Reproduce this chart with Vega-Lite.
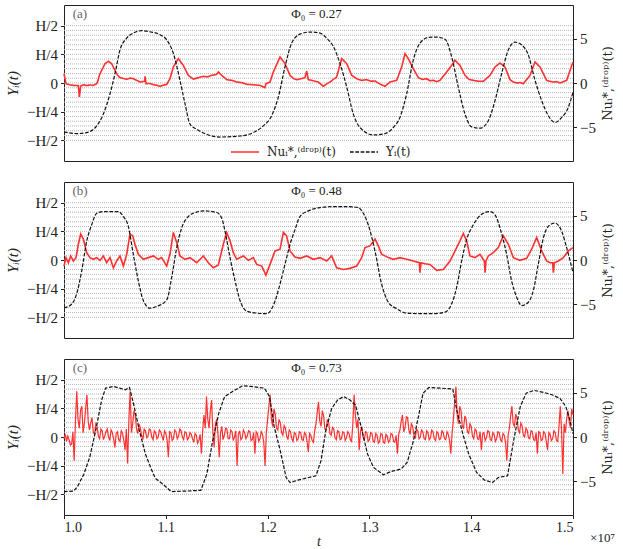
{
"$schema": "https://vega.github.io/schema/vega-lite/v6.json",
"padding": {"left": 5, "top": 4, "right": 5, "bottom": 0},
"config": {
  "font": "Liberation Serif",
  "view": {"stroke": "#222", "strokeWidth": 1},
  "axis": {"domain": false, "grid": false, "labelFont": "Liberation Serif", "titleFont": "Liberation Serif", "labelFontSize": 15, "titleFontSize": 15, "titleFontWeight": "normal", "labelColor": "#222", "titleColor": "#222", "tickColor": "#222", "tickSize": 3.5, "labelPadding": 3},
  "legend": {"orient": "none", "legendX": 166, "legendY": 132, "direction": "horizontal", "symbolType": "stroke", "symbolSize": 784, "symbolStrokeWidth": 1.6, "labelFont": "DejaVu Serif", "labelFontSize": 12, "labelColor": "#222", "labelOffset": 7, "columnPadding": 10}
},
"title": {"text": "×10⁷", "orient": "bottom", "anchor": "end", "fontSize": 13, "fontWeight": "normal", "font": "Liberation Serif", "color": "#222", "offset": -17},
"spacing": 19,
"resolve": {"scale": {"color": "independent", "strokeDash": "independent"}},
"datasets": {
  "grid": [{"y":-0.5},{"y":-0.4583},{"y":-0.4167},{"y":-0.375},{"y":-0.3333},{"y":-0.2917},{"y":-0.25},{"y":-0.2083},{"y":-0.1667},{"y":-0.125},{"y":-0.0833},{"y":-0.0417},{"y":0},{"y":0.0417},{"y":0.0833},{"y":0.125},{"y":0.1667},{"y":0.2083},{"y":0.25},{"y":0.2917},{"y":0.3333},{"y":0.375},{"y":0.4167},{"y":0.4583},{"y":0.5}],
  "a_y": [{"t":1.0,"v":-0.426},{"t":1.0124,"v":-0.441},{"t":1.0223,"v":-0.432},{"t":1.0321,"v":-0.374},{"t":1.0386,"v":-0.271},{"t":1.0452,"v":-0.094},{"t":1.0501,"v":0.082},{"t":1.055,"v":0.288},{"t":1.0616,"v":0.391},{"t":1.0681,"v":0.435},{"t":1.0763,"v":0.456},{"t":1.0845,"v":0.447},{"t":1.0943,"v":0.421},{"t":1.1009,"v":0.376},{"t":1.1074,"v":0.259},{"t":1.1139,"v":0.024},{"t":1.1189,"v":-0.182},{"t":1.1238,"v":-0.359},{"t":1.1303,"v":-0.403},{"t":1.1401,"v":-0.447},{"t":1.1532,"v":-0.471},{"t":1.1729,"v":-0.462},{"t":1.186,"v":-0.432},{"t":1.1958,"v":-0.374},{"t":1.204,"v":-0.285},{"t":1.2105,"v":-0.124},{"t":1.2171,"v":0.141},{"t":1.2236,"v":0.347},{"t":1.2318,"v":0.426},{"t":1.2416,"v":0.444},{"t":1.2515,"v":0.435},{"t":1.258,"v":0.391},{"t":1.2646,"v":0.318},{"t":1.2711,"v":0.171},{"t":1.2777,"v":-0.035},{"t":1.2842,"v":-0.271},{"t":1.2908,"v":-0.388},{"t":1.3039,"v":-0.453},{"t":1.3153,"v":-0.441},{"t":1.3235,"v":-0.388},{"t":1.33,"v":-0.3},{"t":1.3366,"v":-0.094},{"t":1.3431,"v":0.2},{"t":1.3497,"v":0.347},{"t":1.3579,"v":0.397},{"t":1.3661,"v":0.4},{"t":1.3743,"v":0.382},{"t":1.3808,"v":0.229},{"t":1.3873,"v":-0.035},{"t":1.3939,"v":-0.271},{"t":1.4004,"v":-0.382},{"t":1.4086,"v":-0.394},{"t":1.4168,"v":-0.329},{"t":1.4234,"v":-0.153},{"t":1.4299,"v":0.082},{"t":1.4365,"v":0.288},{"t":1.443,"v":0.356},{"t":1.4496,"v":0.332},{"t":1.4561,"v":0.244},{"t":1.4627,"v":0.024},{"t":1.4692,"v":-0.153},{"t":1.4758,"v":-0.285},{"t":1.4823,"v":-0.344},{"t":1.4889,"v":-0.3},{"t":1.4954,"v":-0.212},{"t":1.5,"v":-0.079}],
  "a_nu": [{"t":1.0,"v":1.06},{"t":1.002,"v":-0.08},{"t":1.0055,"v":-0.2},{"t":1.0092,"v":-0.27},{"t":1.0141,"v":-0.3},{"t":1.0151,"v":-1.59},{"t":1.0164,"v":-0.34},{"t":1.0195,"v":-0.2},{"t":1.0223,"v":-0.3},{"t":1.0255,"v":-0.22},{"t":1.0288,"v":-0.27},{"t":1.0321,"v":-0.08},{"t":1.0337,"v":0.38},{"t":1.0347,"v":0.87},{"t":1.037,"v":1.44},{"t":1.0403,"v":2.2},{"t":1.0435,"v":2.46},{"t":1.0468,"v":2.2},{"t":1.0501,"v":1.44},{"t":1.0525,"v":0.9},{"t":1.055,"v":0.61},{"t":1.0585,"v":0.5},{"t":1.0616,"v":0.42},{"t":1.065,"v":0.55},{"t":1.0681,"v":0.49},{"t":1.0715,"v":0.3},{"t":1.0747,"v":0.11},{"t":1.0792,"v":0.2},{"t":1.0796,"v":0.76},{"t":1.0806,"v":-0.08},{"t":1.0845,"v":-0.05},{"t":1.0878,"v":-0.19},{"t":1.091,"v":-0.25},{"t":1.0943,"v":-0.38},{"t":1.0975,"v":-0.25},{"t":1.1009,"v":-0.15},{"t":1.1041,"v":0.49},{"t":1.1074,"v":1.82},{"t":1.1123,"v":2.77},{"t":1.1172,"v":2.0},{"t":1.1221,"v":0.87},{"t":1.127,"v":0.45},{"t":1.132,"v":0.6},{"t":1.1369,"v":0.76},{"t":1.141,"v":0.7},{"t":1.1451,"v":0.87},{"t":1.15,"v":0.98},{"t":1.1516,"v":1.25},{"t":1.1549,"v":0.87},{"t":1.1598,"v":0.38},{"t":1.165,"v":0.3},{"t":1.1696,"v":0.11},{"t":1.1745,"v":0.05},{"t":1.1794,"v":-0.15},{"t":1.186,"v":-0.2},{"t":1.1925,"v":-0.27},{"t":1.1974,"v":-0.53},{"t":1.1984,"v":-0.08},{"t":1.2024,"v":0.11},{"t":1.2056,"v":1.25},{"t":1.2122,"v":2.95},{"t":1.2171,"v":2.2},{"t":1.222,"v":0.87},{"t":1.2255,"v":0.5},{"t":1.2286,"v":0.38},{"t":1.233,"v":0.5},{"t":1.2367,"v":0.61},{"t":1.2384,"v":1.36},{"t":1.24,"v":0.38},{"t":1.2433,"v":0.3},{"t":1.2465,"v":0.2},{"t":1.2498,"v":0.11},{"t":1.2547,"v":-0.38},{"t":1.258,"v":-0.1},{"t":1.2613,"v":0.11},{"t":1.2678,"v":0.68},{"t":1.2728,"v":2.77},{"t":1.2777,"v":2.2},{"t":1.2826,"v":0.87},{"t":1.2875,"v":0.49},{"t":1.292,"v":0.3},{"t":1.2973,"v":0.38},{"t":1.3015,"v":0.2},{"t":1.3055,"v":0.23},{"t":1.31,"v":-0.1},{"t":1.3153,"v":-0.38},{"t":1.3202,"v":0.11},{"t":1.3268,"v":0.3},{"t":1.3317,"v":1.82},{"t":1.335,"v":3.33},{"t":1.3382,"v":2.77},{"t":1.3431,"v":1.63},{"t":1.3481,"v":0.61},{"t":1.352,"v":0.4},{"t":1.3562,"v":0.49},{"t":1.3595,"v":0.25},{"t":1.3628,"v":0.3},{"t":1.366,"v":0.15},{"t":1.3693,"v":0.3},{"t":1.3759,"v":1.25},{"t":1.3808,"v":2.0},{"t":1.3841,"v":2.58},{"t":1.389,"v":2.0},{"t":1.3939,"v":0.87},{"t":1.398,"v":0.4},{"t":1.4021,"v":0.3},{"t":1.407,"v":0.2},{"t":1.4119,"v":0.19},{"t":1.4185,"v":0.87},{"t":1.4234,"v":1.82},{"t":1.4283,"v":2.27},{"t":1.4332,"v":1.82},{"t":1.4381,"v":0.38},{"t":1.4415,"v":0.1},{"t":1.4447,"v":0.0},{"t":1.448,"v":0.05},{"t":1.4512,"v":-0.08},{"t":1.4578,"v":0.87},{"t":1.4627,"v":2.39},{"t":1.4676,"v":1.82},{"t":1.4741,"v":0.3},{"t":1.4775,"v":0.2},{"t":1.4807,"v":0.11},{"t":1.484,"v":0.15},{"t":1.4872,"v":0.0},{"t":1.4938,"v":0.3},{"t":1.4971,"v":1.44},{"t":1.5,"v":2.39}],
  "b_y": [{"t":1.0,"v":-0.417},{"t":1.0059,"v":-0.397},{"t":1.0124,"v":-0.296},{"t":1.0174,"v":-0.095},{"t":1.0223,"v":0.164},{"t":1.0272,"v":0.307},{"t":1.0321,"v":0.408},{"t":1.0386,"v":0.422},{"t":1.0534,"v":0.422},{"t":1.0583,"v":0.379},{"t":1.0632,"v":0.293},{"t":1.0681,"v":0.049},{"t":1.073,"v":-0.181},{"t":1.0779,"v":-0.353},{"t":1.0845,"v":-0.42},{"t":1.091,"v":-0.405},{"t":1.1009,"v":-0.348},{"t":1.1058,"v":-0.152},{"t":1.1107,"v":0.106},{"t":1.1156,"v":0.279},{"t":1.1221,"v":0.379},{"t":1.1303,"v":0.417},{"t":1.1369,"v":0.428},{"t":1.15,"v":0.414},{"t":1.1549,"v":0.365},{"t":1.1582,"v":0.25},{"t":1.1631,"v":0.02},{"t":1.168,"v":-0.181},{"t":1.1729,"v":-0.353},{"t":1.1794,"v":-0.445},{"t":1.1893,"v":-0.463},{"t":1.1991,"v":-0.468},{"t":1.2056,"v":-0.397},{"t":1.2122,"v":-0.21},{"t":1.2171,"v":-0.037},{"t":1.222,"v":0.135},{"t":1.2269,"v":0.264},{"t":1.2318,"v":0.379},{"t":1.24,"v":0.428},{"t":1.2515,"v":0.457},{"t":1.2646,"v":0.466},{"t":1.2777,"v":0.466},{"t":1.2891,"v":0.457},{"t":1.294,"v":0.408},{"t":1.2989,"v":0.307},{"t":1.3055,"v":0.078},{"t":1.312,"v":-0.21},{"t":1.3186,"v":-0.368},{"t":1.3268,"v":-0.425},{"t":1.3366,"v":-0.463},{"t":1.3497,"v":-0.468},{"t":1.3628,"v":-0.468},{"t":1.3743,"v":-0.454},{"t":1.3808,"v":-0.382},{"t":1.3857,"v":-0.239},{"t":1.3906,"v":-0.009},{"t":1.3955,"v":0.178},{"t":1.4021,"v":0.307},{"t":1.4103,"v":0.399},{"t":1.4185,"v":0.422},{"t":1.4234,"v":0.394},{"t":1.4283,"v":0.279},{"t":1.4348,"v":0.049},{"t":1.4397,"v":-0.181},{"t":1.4447,"v":-0.325},{"t":1.4496,"v":-0.397},{"t":1.4561,"v":-0.368},{"t":1.461,"v":-0.267},{"t":1.4659,"v":-0.037},{"t":1.4709,"v":0.193},{"t":1.4774,"v":0.307},{"t":1.4823,"v":0.322},{"t":1.4889,"v":0.25},{"t":1.4938,"v":0.106},{"t":1.5,"v":-0.109}],
  "b_nu": [{"t":1.0,"v":-0.69},{"t":1.002,"v":0.27},{"t":1.0043,"v":-0.31},{"t":1.0065,"v":0.46},{"t":1.0092,"v":-0.11},{"t":1.0118,"v":0.27},{"t":1.0141,"v":1.79},{"t":1.0164,"v":2.94},{"t":1.019,"v":2.37},{"t":1.0223,"v":0.84},{"t":1.0255,"v":0.27},{"t":1.0288,"v":0.08},{"t":1.0321,"v":0.27},{"t":1.0354,"v":-0.04},{"t":1.0386,"v":0.46},{"t":1.0419,"v":-0.31},{"t":1.0452,"v":0.27},{"t":1.0485,"v":-0.88},{"t":1.0517,"v":-0.11},{"t":1.055,"v":0.46},{"t":1.0583,"v":-0.69},{"t":1.0616,"v":0.65},{"t":1.0648,"v":2.94},{"t":1.0675,"v":2.75},{"t":1.0697,"v":1.79},{"t":1.073,"v":0.65},{"t":1.0779,"v":0.08},{"t":1.0828,"v":0.27},{"t":1.0878,"v":0.46},{"t":1.0927,"v":0.08},{"t":1.0959,"v":0.27},{"t":1.1009,"v":-0.69},{"t":1.1041,"v":0.65},{"t":1.1074,"v":3.13},{"t":1.1107,"v":1.98},{"t":1.1139,"v":0.46},{"t":1.1189,"v":0.08},{"t":1.1238,"v":0.27},{"t":1.1303,"v":-0.31},{"t":1.1369,"v":0.46},{"t":1.1418,"v":-0.31},{"t":1.1467,"v":-0.88},{"t":1.1516,"v":-0.57},{"t":1.1565,"v":1.79},{"t":1.1598,"v":3.13},{"t":1.1631,"v":2.18},{"t":1.1663,"v":0.84},{"t":1.1696,"v":0.08},{"t":1.1762,"v":0.46},{"t":1.1811,"v":-0.04},{"t":1.186,"v":0.27},{"t":1.1893,"v":-0.5},{"t":1.1942,"v":-0.69},{"t":1.1984,"v":-1.72},{"t":1.2024,"v":-0.5},{"t":1.2073,"v":1.03},{"t":1.2122,"v":1.22},{"t":1.2155,"v":3.13},{"t":1.2187,"v":2.75},{"t":1.222,"v":1.03},{"t":1.2269,"v":0.34},{"t":1.2318,"v":0.19},{"t":1.2384,"v":0.46},{"t":1.2449,"v":0.08},{"t":1.2515,"v":0.27},{"t":1.258,"v":-0.11},{"t":1.2629,"v":0.46},{"t":1.2678,"v":-0.88},{"t":1.2744,"v":-1.07},{"t":1.2809,"v":-0.95},{"t":1.2875,"v":-0.69},{"t":1.2924,"v":0.27},{"t":1.2957,"v":1.41},{"t":1.3006,"v":1.6},{"t":1.3055,"v":2.37},{"t":1.3088,"v":1.6},{"t":1.312,"v":0.65},{"t":1.3186,"v":0.27},{"t":1.3235,"v":0.08},{"t":1.3301,"v":0.27},{"t":1.3366,"v":0.08},{"t":1.3431,"v":-0.11},{"t":1.3491,"v":-0.31},{"t":1.3497,"v":-1.45},{"t":1.3507,"v":-0.31},{"t":1.3546,"v":-0.42},{"t":1.3595,"v":-0.5},{"t":1.3661,"v":-1.18},{"t":1.3726,"v":-1.07},{"t":1.3792,"v":-0.11},{"t":1.3841,"v":1.03},{"t":1.389,"v":2.18},{"t":1.3923,"v":3.02},{"t":1.3955,"v":2.18},{"t":1.3988,"v":0.46},{"t":1.4037,"v":0.27},{"t":1.4086,"v":0.65},{"t":1.4129,"v":-0.11},{"t":1.4136,"v":-1.45},{"t":1.4145,"v":-0.11},{"t":1.4168,"v":0.46},{"t":1.4217,"v":0.84},{"t":1.4266,"v":1.41},{"t":1.4315,"v":2.75},{"t":1.4365,"v":1.79},{"t":1.4414,"v":0.27},{"t":1.4479,"v":-0.04},{"t":1.4545,"v":0.19},{"t":1.4594,"v":1.22},{"t":1.4643,"v":2.56},{"t":1.4692,"v":1.03},{"t":1.4741,"v":-0.11},{"t":1.4774,"v":-0.31},{"t":1.48,"v":-0.31},{"t":1.4807,"v":-1.45},{"t":1.4817,"v":-0.31},{"t":1.4856,"v":-0.11},{"t":1.4905,"v":0.27},{"t":1.4954,"v":1.03},{"t":1.5,"v":1.41}],
  "c_y": [{"t":1.0,"v":-0.476},{"t":1.0097,"v":-0.471},{"t":1.0136,"v":-0.426},{"t":1.0195,"v":-0.324},{"t":1.0253,"v":-0.176},{"t":1.0312,"v":0.059},{"t":1.037,"v":0.324},{"t":1.0409,"v":0.426},{"t":1.0487,"v":0.441},{"t":1.0546,"v":0.426},{"t":1.0604,"v":0.412},{"t":1.0643,"v":0.432},{"t":1.0682,"v":0.294},{"t":1.074,"v":0.059},{"t":1.0799,"v":-0.147},{"t":1.0857,"v":-0.279},{"t":1.0896,"v":-0.359},{"t":1.0974,"v":-0.412},{"t":1.1052,"v":-0.476},{"t":1.1208,"v":-0.471},{"t":1.1344,"v":-0.465},{"t":1.1403,"v":-0.324},{"t":1.1461,"v":-0.029},{"t":1.152,"v":0.206},{"t":1.1578,"v":0.353},{"t":1.1656,"v":0.397},{"t":1.1754,"v":0.447},{"t":1.1832,"v":0.441},{"t":1.1968,"v":0.426},{"t":1.2019,"v":0.353},{"t":1.2065,"v":0.088},{"t":1.2124,"v":-0.118},{"t":1.2182,"v":-0.353},{"t":1.2221,"v":-0.397},{"t":1.2299,"v":-0.376},{"t":1.2377,"v":-0.359},{"t":1.2475,"v":-0.338},{"t":1.2525,"v":-0.206},{"t":1.2572,"v":0.059},{"t":1.263,"v":0.25},{"t":1.2689,"v":0.324},{"t":1.2747,"v":0.353},{"t":1.2806,"v":0.324},{"t":1.2864,"v":0.279},{"t":1.2923,"v":0.074},{"t":1.2981,"v":-0.147},{"t":1.304,"v":-0.265},{"t":1.3137,"v":-0.329},{"t":1.3215,"v":-0.3},{"t":1.3312,"v":-0.279},{"t":1.3371,"v":-0.221},{"t":1.3429,"v":-0.044},{"t":1.3488,"v":0.206},{"t":1.3527,"v":0.382},{"t":1.3585,"v":0.432},{"t":1.3702,"v":0.426},{"t":1.3819,"v":0.418},{"t":1.3858,"v":0.235},{"t":1.3917,"v":0.029},{"t":1.3975,"v":-0.147},{"t":1.4053,"v":-0.309},{"t":1.4131,"v":-0.376},{"t":1.4209,"v":-0.397},{"t":1.4267,"v":-0.353},{"t":1.4357,"v":-0.338},{"t":1.4423,"v":0.0},{"t":1.4482,"v":0.265},{"t":1.454,"v":0.382},{"t":1.4618,"v":0.406},{"t":1.4715,"v":0.388},{"t":1.4793,"v":0.368},{"t":1.4871,"v":0.338},{"t":1.493,"v":0.265},{"t":1.4969,"v":0.147},{"t":1.5,"v":0.029}],
  "c_nu": [{"t":1.0,"v":-0.2},{"t":1.00125,"v":0.3},{"t":1.0025,"v":-0.5},{"t":1.00375,"v":0.1},{"t":1.005,"v":-0.3},{"t":1.00625,"v":-0.9},{"t":1.0075,"v":-0.8},{"t":1.00875,"v":0.6},{"t":1.01,"v":-2.7},{"t":1.01125,"v":1.8},{"t":1.0125,"v":5.2},{"t":1.01375,"v":2.0},{"t":1.015,"v":1.0},{"t":1.01625,"v":3.0},{"t":1.0175,"v":3.5},{"t":1.01875,"v":0.5},{"t":1.02,"v":1.5},{"t":1.02125,"v":3.2},{"t":1.0225,"v":4.8},{"t":1.02375,"v":1.8},{"t":1.025,"v":0.8},{"t":1.02625,"v":1.6},{"t":1.0275,"v":2.2},{"t":1.02875,"v":0.6},{"t":1.03,"v":0.3},{"t":1.03125,"v":1.5},{"t":1.0325,"v":1.2},{"t":1.03375,"v":0.1},{"t":1.035,"v":-0.2},{"t":1.03625,"v":0.9},{"t":1.0375,"v":0.7},{"t":1.03875,"v":-0.3},{"t":1.04,"v":0.1},{"t":1.04125,"v":0.6},{"t":1.0425,"v":0.9},{"t":1.04375,"v":0.0},{"t":1.045,"v":-0.4},{"t":1.04625,"v":0.8},{"t":1.0475,"v":0.5},{"t":1.04875,"v":-0.2},{"t":1.05,"v":-1.2},{"t":1.05125,"v":0.4},{"t":1.0525,"v":0.6},{"t":1.05375,"v":-0.3},{"t":1.055,"v":-0.5},{"t":1.05625,"v":0.7},{"t":1.0575,"v":0.4},{"t":1.05875,"v":-0.4},{"t":1.06,"v":-1.5},{"t":1.06125,"v":0.9},{"t":1.0625,"v":-3.0},{"t":1.06375,"v":2.0},{"t":1.065,"v":5.2},{"t":1.06625,"v":0.5},{"t":1.0675,"v":1.5},{"t":1.06875,"v":3.0},{"t":1.07,"v":2.5},{"t":1.07125,"v":0.9},{"t":1.0725,"v":0.4},{"t":1.07375,"v":1.5},{"t":1.075,"v":1.0},{"t":1.07625,"v":0.2},{"t":1.0775,"v":-0.3},{"t":1.07875,"v":0.9},{"t":1.08,"v":0.7},{"t":1.08125,"v":-0.1},{"t":1.0825,"v":0.1},{"t":1.08375,"v":0.9},{"t":1.085,"v":0.8},{"t":1.08625,"v":0.0},{"t":1.0875,"v":-0.3},{"t":1.08875,"v":0.7},{"t":1.09,"v":0.5},{"t":1.09125,"v":-0.2},{"t":1.0925,"v":0.0},{"t":1.09375,"v":0.8},{"t":1.095,"v":0.6},{"t":1.09625,"v":0.1},{"t":1.0975,"v":-0.4},{"t":1.09875,"v":0.7},{"t":1.1,"v":0.4},{"t":1.10125,"v":-0.3},{"t":1.1025,"v":-2.3},{"t":1.10375,"v":0.6},{"t":1.105,"v":0.5},{"t":1.10625,"v":-0.4},{"t":1.1075,"v":-0.2},{"t":1.10875,"v":0.8},{"t":1.11,"v":0.6},{"t":1.11125,"v":-0.2},{"t":1.1125,"v":0.1},{"t":1.11375,"v":0.9},{"t":1.115,"v":0.7},{"t":1.11625,"v":0.0},{"t":1.1175,"v":-0.3},{"t":1.11875,"v":0.6},{"t":1.12,"v":0.5},{"t":1.12125,"v":-0.3},{"t":1.1225,"v":-0.1},{"t":1.12375,"v":0.5},{"t":1.125,"v":0.3},{"t":1.12625,"v":-0.2},{"t":1.1275,"v":-0.6},{"t":1.12875,"v":0.4},{"t":1.13,"v":0.2},{"t":1.13125,"v":-0.7},{"t":1.1325,"v":-0.4},{"t":1.13375,"v":0.3},{"t":1.135,"v":-1.9},{"t":1.13625,"v":0.8},{"t":1.1375,"v":2.5},{"t":1.13875,"v":1.0},{"t":1.14,"v":4.6},{"t":1.14125,"v":2.0},{"t":1.1425,"v":1.0},{"t":1.14375,"v":3.0},{"t":1.145,"v":4.2},{"t":1.14625,"v":0.5},{"t":1.1475,"v":-1.2},{"t":1.14875,"v":1.5},{"t":1.15,"v":2.0},{"t":1.15125,"v":0.3},{"t":1.1525,"v":-2.3},{"t":1.15375,"v":0.5},{"t":1.155,"v":1.2},{"t":1.15625,"v":-0.3},{"t":1.1575,"v":0.2},{"t":1.15875,"v":1.0},{"t":1.16,"v":0.9},{"t":1.16125,"v":-0.2},{"t":1.1625,"v":-0.2},{"t":1.16375,"v":0.8},{"t":1.165,"v":0.6},{"t":1.16625,"v":-0.4},{"t":1.1675,"v":0.0},{"t":1.16875,"v":0.7},{"t":1.17,"v":-3.3},{"t":1.17125,"v":0.3},{"t":1.1725,"v":0.7},{"t":1.17375,"v":-0.3},{"t":1.175,"v":-0.1},{"t":1.17625,"v":0.8},{"t":1.1775,"v":0.5},{"t":1.17875,"v":-0.2},{"t":1.18,"v":0.1},{"t":1.18125,"v":0.7},{"t":1.1825,"v":0.6},{"t":1.18375,"v":-0.4},{"t":1.185,"v":-0.3},{"t":1.18625,"v":0.5},{"t":1.1875,"v":-1.9},{"t":1.18875,"v":0.6},{"t":1.19,"v":0.4},{"t":1.19125,"v":-0.5},{"t":1.1925,"v":-0.2},{"t":1.19375,"v":0.6},{"t":1.195,"v":0.3},{"t":1.19625,"v":-0.6},{"t":1.1975,"v":-3.3},{"t":1.19875,"v":0.5},{"t":1.2,"v":2.0},{"t":1.20125,"v":3.5},{"t":1.2025,"v":4.8},{"t":1.20375,"v":2.0},{"t":1.205,"v":1.2},{"t":1.20625,"v":3.2},{"t":1.2075,"v":2.6},{"t":1.20875,"v":1.0},{"t":1.21,"v":0.8},{"t":1.21125,"v":2.0},{"t":1.2125,"v":1.6},{"t":1.21375,"v":0.5},{"t":1.215,"v":0.2},{"t":1.21625,"v":1.3},{"t":1.2175,"v":1.0},{"t":1.21875,"v":0.1},{"t":1.22,"v":-0.3},{"t":1.22125,"v":0.8},{"t":1.2225,"v":0.6},{"t":1.22375,"v":-0.2},{"t":1.225,"v":-0.5},{"t":1.22625,"v":0.5},{"t":1.2275,"v":0.4},{"t":1.22875,"v":-0.4},{"t":1.23,"v":-0.2},{"t":1.23125,"v":0.6},{"t":1.2325,"v":0.5},{"t":1.23375,"v":-0.3},{"t":1.235,"v":-0.4},{"t":1.23625,"v":0.5},{"t":1.2375,"v":0.3},{"t":1.23875,"v":-0.5},{"t":1.24,"v":-1.7},{"t":1.24125,"v":0.4},{"t":1.2425,"v":0.2},{"t":1.24375,"v":-0.4},{"t":1.245,"v":-0.6},{"t":1.24625,"v":0.7},{"t":1.2475,"v":1.5},{"t":1.24875,"v":2.8},{"t":1.25,"v":4.0},{"t":1.25125,"v":1.8},{"t":1.2525,"v":1.2},{"t":1.25375,"v":3.0},{"t":1.255,"v":2.4},{"t":1.25625,"v":0.9},{"t":1.2575,"v":0.8},{"t":1.25875,"v":2.0},{"t":1.26,"v":1.6},{"t":1.26125,"v":0.4},{"t":1.2625,"v":0.2},{"t":1.26375,"v":1.1},{"t":1.265,"v":0.9},{"t":1.26625,"v":-0.1},{"t":1.2675,"v":-0.3},{"t":1.26875,"v":0.7},{"t":1.27,"v":0.6},{"t":1.27125,"v":-0.3},{"t":1.2725,"v":-0.2},{"t":1.27375,"v":0.6},{"t":1.275,"v":0.5},{"t":1.27625,"v":-0.4},{"t":1.2775,"v":-0.1},{"t":1.27875,"v":0.6},{"t":1.28,"v":0.4},{"t":1.28125,"v":-0.3},{"t":1.2825,"v":-0.5},{"t":1.28375,"v":1.5},{"t":1.285,"v":4.8},{"t":1.28625,"v":2.5},{"t":1.2875,"v":1.0},{"t":1.28875,"v":2.0},{"t":1.29,"v":-1.5},{"t":1.29125,"v":0.6},{"t":1.2925,"v":1.2},{"t":1.29375,"v":0.0},{"t":1.295,"v":-0.4},{"t":1.29625,"v":0.6},{"t":1.2975,"v":0.5},{"t":1.29875,"v":-0.5},{"t":1.3,"v":-0.3},{"t":1.30125,"v":0.5},{"t":1.3025,"v":0.4},{"t":1.30375,"v":-0.5},{"t":1.305,"v":-0.6},{"t":1.30625,"v":0.4},{"t":1.3075,"v":0.2},{"t":1.30875,"v":-0.7},{"t":1.31,"v":-0.5},{"t":1.31125,"v":0.4},{"t":1.3125,"v":0.3},{"t":1.31375,"v":-0.6},{"t":1.315,"v":-0.7},{"t":1.31625,"v":0.3},{"t":1.3175,"v":0.1},{"t":1.31875,"v":-0.6},{"t":1.32,"v":-0.4},{"t":1.32125,"v":0.4},{"t":1.3225,"v":0.3},{"t":1.32375,"v":-0.5},{"t":1.325,"v":-0.6},{"t":1.32625,"v":0.2},{"t":1.3275,"v":-1.9},{"t":1.32875,"v":0.3},{"t":1.33,"v":0.8},{"t":1.33125,"v":1.8},{"t":1.3325,"v":2.5},{"t":1.33375,"v":0.6},{"t":1.335,"v":1.0},{"t":1.33625,"v":2.3},{"t":1.3375,"v":2.2},{"t":1.33875,"v":0.8},{"t":1.34,"v":0.3},{"t":1.34125,"v":1.5},{"t":1.3425,"v":1.2},{"t":1.34375,"v":0.2},{"t":1.345,"v":-0.2},{"t":1.34625,"v":0.9},{"t":1.3475,"v":0.7},{"t":1.34875,"v":-0.2},{"t":1.35,"v":0.0},{"t":1.35125,"v":0.8},{"t":1.3525,"v":0.6},{"t":1.35375,"v":-0.2},{"t":1.355,"v":-0.3},{"t":1.35625,"v":0.7},{"t":1.3575,"v":0.5},{"t":1.35875,"v":-0.3},{"t":1.36,"v":-0.1},{"t":1.36125,"v":0.8},{"t":1.3625,"v":0.6},{"t":1.36375,"v":-0.2},{"t":1.365,"v":-0.4},{"t":1.36625,"v":0.6},{"t":1.3675,"v":0.4},{"t":1.36875,"v":-0.3},{"t":1.37,"v":-0.2},{"t":1.37125,"v":0.7},{"t":1.3725,"v":0.5},{"t":1.37375,"v":-0.2},{"t":1.375,"v":-0.3},{"t":1.37625,"v":0.6},{"t":1.3775,"v":0.3},{"t":1.37875,"v":-0.4},{"t":1.38,"v":-1.9},{"t":1.38125,"v":0.5},{"t":1.3825,"v":2.0},{"t":1.38375,"v":4.0},{"t":1.385,"v":5.7},{"t":1.38625,"v":2.5},{"t":1.3875,"v":1.5},{"t":1.38875,"v":3.5},{"t":1.39,"v":3.0},{"t":1.39125,"v":1.2},{"t":1.3925,"v":1.0},{"t":1.39375,"v":2.4},{"t":1.395,"v":2.0},{"t":1.39625,"v":0.6},{"t":1.3975,"v":0.4},{"t":1.39875,"v":1.5},{"t":1.4,"v":1.2},{"t":1.40125,"v":0.1},{"t":1.4025,"v":-0.2},{"t":1.40375,"v":0.9},{"t":1.405,"v":0.7},{"t":1.40625,"v":-0.2},{"t":1.4075,"v":-0.3},{"t":1.40875,"v":0.6},{"t":1.41,"v":-1.5},{"t":1.41125,"v":0.4},{"t":1.4125,"v":0.5},{"t":1.41375,"v":-0.4},{"t":1.415,"v":-0.1},{"t":1.41625,"v":0.7},{"t":1.4175,"v":0.6},{"t":1.41875,"v":-0.3},{"t":1.42,"v":-0.4},{"t":1.42125,"v":0.5},{"t":1.4225,"v":0.3},{"t":1.42375,"v":-0.5},{"t":1.425,"v":-0.2},{"t":1.42625,"v":0.6},{"t":1.4275,"v":0.5},{"t":1.42875,"v":-0.3},{"t":1.43,"v":-0.5},{"t":1.43125,"v":0.4},{"t":1.4325,"v":0.2},{"t":1.43375,"v":-0.6},{"t":1.435,"v":-2.7},{"t":1.43625,"v":0.2},{"t":1.4375,"v":1.0},{"t":1.43875,"v":2.4},{"t":1.44,"v":3.5},{"t":1.44125,"v":1.5},{"t":1.4425,"v":1.2},{"t":1.44375,"v":2.6},{"t":1.445,"v":2.2},{"t":1.44625,"v":0.8},{"t":1.4475,"v":0.5},{"t":1.44875,"v":1.6},{"t":1.45,"v":1.3},{"t":1.45125,"v":0.2},{"t":1.4525,"v":0.0},{"t":1.45375,"v":1.0},{"t":1.455,"v":0.8},{"t":1.45625,"v":-0.1},{"t":1.4575,"v":-0.2},{"t":1.45875,"v":0.7},{"t":1.46,"v":0.6},{"t":1.46125,"v":-0.3},{"t":1.4625,"v":-0.4},{"t":1.46375,"v":0.5},{"t":1.465,"v":-1.9},{"t":1.46625,"v":0.6},{"t":1.4675,"v":0.5},{"t":1.46875,"v":-0.4},{"t":1.47,"v":-0.3},{"t":1.47125,"v":0.6},{"t":1.4725,"v":0.4},{"t":1.47375,"v":-0.5},{"t":1.475,"v":-1.5},{"t":1.47625,"v":0.5},{"t":1.4775,"v":0.3},{"t":1.47875,"v":-0.4},{"t":1.48,"v":-0.2},{"t":1.48125,"v":0.7},{"t":1.4825,"v":0.5},{"t":1.48375,"v":-0.4},{"t":1.485,"v":-0.5},{"t":1.48625,"v":1.2},{"t":1.4875,"v":3.5},{"t":1.48875,"v":0.8},{"t":1.49,"v":-4.2},{"t":1.49125,"v":1.5},{"t":1.4925,"v":0.5},{"t":1.49375,"v":2.0},{"t":1.495,"v":3.0},{"t":1.49625,"v":1.8},{"t":1.4975,"v":1.0},{"t":1.49875,"v":3.2},{"t":1.5,"v":2.5}]
},
"vconcat": [
  {
    "width": 509, "height": 156,
    "resolve": {"scale": {"y": "independent"}},
    "layer": [
      {"data": {"name": "grid"}, "mark": {"type": "rule", "color": "#b5b5b5", "strokeDash": [1, 1], "strokeWidth": 1},
       "encoding": {"y": {"field": "y", "type": "quantitative", "scale": {"domain": [-0.68, 0.68]}, "axis": null}}},
      {"data": {"name": "a_nu"}, "mark": {"type": "line", "strokeWidth": 1.6},
       "encoding": {
         "x": {"field": "t", "type": "quantitative", "scale": {"domain": [1, 1.5], "nice": false, "zero": false}, "axis": null},
         "y": {"field": "v", "type": "quantitative", "scale": {"domain": [-8.86, 8.86]}, "axis": {"orient": "right", "values": [-5, 0, 5], "title": "Nuᵢ*,⁽ᵈʳᵒᵖ⁾(t)", "titleFont": "DejaVu Serif", "titleFontSize": 13, "titleAngle": 270, "titleBaseline": "top", "titlePadding": 6}},
         "color": {"datum": "Nuᵢ*,⁽ᵈʳᵒᵖ⁾(t)", "scale": {"domain": ["Nuᵢ*,⁽ᵈʳᵒᵖ⁾(t)", "Yᵢ(t)"], "range": ["#ff3030", "#111111"]}, "legend": {"title": null}},
         "strokeDash": {"datum": "Nuᵢ*,⁽ᵈʳᵒᵖ⁾(t)", "scale": {"domain": ["Nuᵢ*,⁽ᵈʳᵒᵖ⁾(t)", "Yᵢ(t)"], "range": [[1, 0], [3.7, 1.6]]}, "legend": {"title": null}}
       }},
      {"data": {"name": "a_y"}, "mark": {"type": "line", "strokeWidth": 1.2, "interpolate": "monotone"},
       "encoding": {
         "x": {"field": "t", "type": "quantitative"},
         "y": {"field": "v", "type": "quantitative", "scale": {"domain": [-0.68, 0.68]}, "axis": {"orient": "left", "values": [-0.5, -0.25, 0, 0.25, 0.5], "labelExpr": "datum.value == 0.5 ? 'H/2' : datum.value == 0.25 ? 'H/4' : datum.value == 0 ? '0' : datum.value == -0.25 ? '−H/4' : '−H/2'", "title": "Yᵢ(t)", "titleFontStyle": "italic", "titlePadding": 6}},
         "color": {"datum": "Yᵢ(t)", "legend": {"title": null}},
         "strokeDash": {"datum": "Yᵢ(t)", "legend": {"title": null}}
       }},
      {"data": {"values": [{"t": 1.0157, "v": 0.6, "label": "(a)", "c": "g"}, {"t": 1.248, "v": 0.6, "label": "Φ₀ = 0.27", "c": "k"}]},
       "mark": {"type": "text", "fontSize": 13, "font": "Liberation Serif", "align": "center", "baseline": "middle"},
       "encoding": {
         "x": {"field": "t", "type": "quantitative"},
         "y": {"field": "v", "type": "quantitative", "scale": {"domain": [-0.68, 0.68]}, "axis": null},
         "text": {"field": "label"},
         "fill": {"field": "c", "type": "nominal", "scale": {"domain": ["g", "k"], "range": ["#666666", "#222222"]}, "legend": null}
       }}
    ]
  },
  {
    "width": 509, "height": 156,
    "resolve": {"scale": {"y": "independent"}},
    "layer": [
      {"data": {"name": "grid"}, "mark": {"type": "rule", "color": "#b5b5b5", "strokeDash": [1, 1], "strokeWidth": 1},
       "encoding": {"y": {"field": "y", "type": "quantitative", "scale": {"domain": [-0.68, 0.68]}, "axis": null}}},
      {"data": {"name": "b_nu"}, "mark": {"type": "line", "strokeWidth": 1.6, "color": "#ff3030"},
       "encoding": {
         "x": {"field": "t", "type": "quantitative", "scale": {"domain": [1, 1.5], "nice": false, "zero": false}, "axis": null},
         "y": {"field": "v", "type": "quantitative", "scale": {"domain": [-8.86, 8.86]}, "axis": {"orient": "right", "values": [-5, 0, 5], "title": "Nuᵢ*,⁽ᵈʳᵒᵖ⁾(t)", "titleFont": "DejaVu Serif", "titleFontSize": 13, "titleAngle": 270, "titleBaseline": "top", "titlePadding": 6}}
       }},
      {"data": {"name": "b_y"}, "mark": {"type": "line", "strokeWidth": 1.2, "interpolate": "monotone", "color": "#111111", "strokeDash": [3.7, 1.6]},
       "encoding": {
         "x": {"field": "t", "type": "quantitative"},
         "y": {"field": "v", "type": "quantitative", "scale": {"domain": [-0.68, 0.68]}, "axis": {"orient": "left", "values": [-0.5, -0.25, 0, 0.25, 0.5], "labelExpr": "datum.value == 0.5 ? 'H/2' : datum.value == 0.25 ? 'H/4' : datum.value == 0 ? '0' : datum.value == -0.25 ? '−H/4' : '−H/2'", "title": "Yᵢ(t)", "titleFontStyle": "italic", "titlePadding": 6}}
       }},
      {"data": {"values": [{"t": 1.0157, "v": 0.6, "label": "(b)", "c": "g"}, {"t": 1.248, "v": 0.6, "label": "Φ₀ = 0.48", "c": "k"}]},
       "mark": {"type": "text", "fontSize": 13, "font": "Liberation Serif", "align": "center", "baseline": "middle"},
       "encoding": {
         "x": {"field": "t", "type": "quantitative"},
         "y": {"field": "v", "type": "quantitative", "scale": {"domain": [-0.68, 0.68]}, "axis": null},
         "text": {"field": "label"},
         "fill": {"field": "c", "type": "nominal", "scale": {"domain": ["g", "k"], "range": ["#666666", "#222222"]}, "legend": null}
       }}
    ]
  },
  {
    "width": 509, "height": 156,
    "resolve": {"scale": {"y": "independent"}},
    "layer": [
      {"data": {"name": "grid"}, "mark": {"type": "rule", "color": "#b5b5b5", "strokeDash": [1, 1], "strokeWidth": 1},
       "encoding": {"y": {"field": "y", "type": "quantitative", "scale": {"domain": [-0.68, 0.68]}, "axis": null}}},
      {"data": {"name": "c_nu"}, "mark": {"type": "line", "strokeWidth": 1.2, "color": "#ff3030"},
       "encoding": {
         "x": {"field": "t", "type": "quantitative", "scale": {"domain": [1, 1.5], "nice": false, "zero": false}, "axis": {"values": [1.0, 1.1, 1.2, 1.3, 1.4, 1.5], "format": ".1f", "title": "t", "titleFontStyle": "italic", "titleFontSize": 14, "labelFontSize": 14, "labelPadding": 2, "titlePadding": 0}},
         "y": {"field": "v", "type": "quantitative", "scale": {"domain": [-8.86, 8.86]}, "axis": {"orient": "right", "values": [-5, 0, 5], "title": "Nuᵢ*,⁽ᵈʳᵒᵖ⁾(t)", "titleFont": "DejaVu Serif", "titleFontSize": 13, "titleAngle": 270, "titleBaseline": "top", "titlePadding": 6}}
       }},
      {"data": {"name": "c_y"}, "mark": {"type": "line", "strokeWidth": 1.2, "color": "#111111", "strokeDash": [3.7, 1.6]},
       "encoding": {
         "x": {"field": "t", "type": "quantitative"},
         "y": {"field": "v", "type": "quantitative", "scale": {"domain": [-0.68, 0.68]}, "axis": {"orient": "left", "values": [-0.5, -0.25, 0, 0.25, 0.5], "labelExpr": "datum.value == 0.5 ? 'H/2' : datum.value == 0.25 ? 'H/4' : datum.value == 0 ? '0' : datum.value == -0.25 ? '−H/4' : '−H/2'", "title": "Yᵢ(t)", "titleFontStyle": "italic", "titlePadding": 6}}
       }},
      {"data": {"values": [{"t": 1.0157, "v": 0.6, "label": "(c)", "c": "g"}, {"t": 1.248, "v": 0.6, "label": "Φ₀ = 0.73", "c": "k"}]},
       "mark": {"type": "text", "fontSize": 13, "font": "Liberation Serif", "align": "center", "baseline": "middle"},
       "encoding": {
         "x": {"field": "t", "type": "quantitative"},
         "y": {"field": "v", "type": "quantitative", "scale": {"domain": [-0.68, 0.68]}, "axis": null},
         "text": {"field": "label"},
         "fill": {"field": "c", "type": "nominal", "scale": {"domain": ["g", "k"], "range": ["#666666", "#222222"]}, "legend": null}
       }}
    ]
  }
]
}
